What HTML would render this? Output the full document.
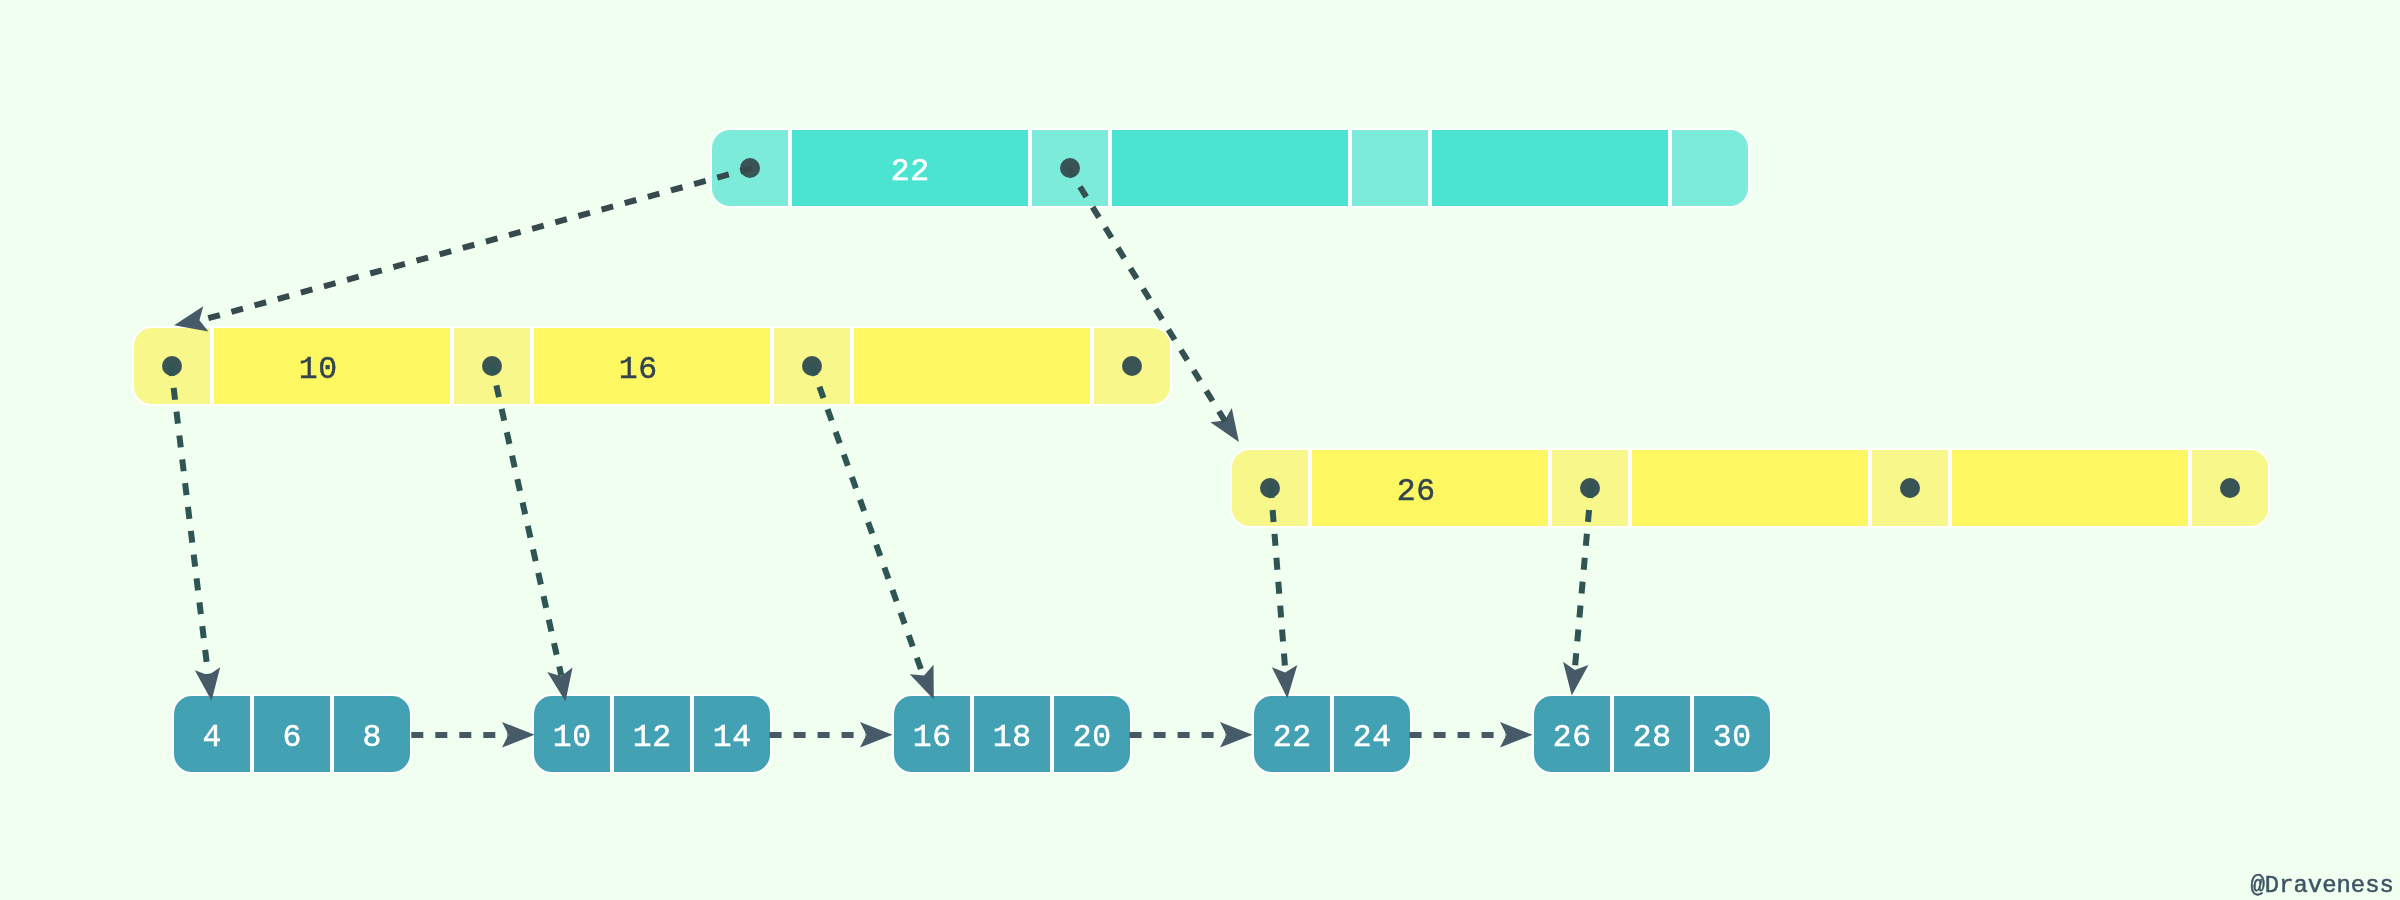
<!DOCTYPE html>
<html><head><meta charset="utf-8"><style>html,body{margin:0;padding:0;background:#F0FFF0;overflow:hidden}svg{display:block;will-change:transform}</style></head>
<body><svg width="2400" height="900" viewBox="0 0 2400 900"><rect x="0" y="0" width="2400" height="900" fill="#F0FFF0"/>
<clipPath id="c1"><rect x="712" y="130" width="1036" height="76" rx="18" ry="18"/></clipPath>
<rect x="710" y="128" width="1040" height="80" rx="20" ry="20" fill="#FFFFFF"/>
<g clip-path="url(#c1)">
<rect x="712" y="130" width="76" height="76" fill="#7CEBDA"/>
<rect x="792" y="130" width="236" height="76" fill="#4BE4D1"/>
<rect x="1032" y="130" width="76" height="76" fill="#7CEBDA"/>
<rect x="1112" y="130" width="236" height="76" fill="#4BE4D1"/>
<rect x="1352" y="130" width="76" height="76" fill="#7CEBDA"/>
<rect x="1432" y="130" width="236" height="76" fill="#4BE4D1"/>
<rect x="1672" y="130" width="76" height="76" fill="#7CEBDA"/>
</g>
<clipPath id="c2"><rect x="134" y="328" width="1036" height="76" rx="18" ry="18"/></clipPath>
<rect x="132" y="326" width="1040" height="80" rx="20" ry="20" fill="#FFFFFF"/>
<g clip-path="url(#c2)">
<rect x="134" y="328" width="76" height="76" fill="#F7F78A"/>
<rect x="214" y="328" width="236" height="76" fill="#FDF862"/>
<rect x="454" y="328" width="76" height="76" fill="#F7F78A"/>
<rect x="534" y="328" width="236" height="76" fill="#FDF862"/>
<rect x="774" y="328" width="76" height="76" fill="#F7F78A"/>
<rect x="854" y="328" width="236" height="76" fill="#FDF862"/>
<rect x="1094" y="328" width="76" height="76" fill="#F7F78A"/>
</g>
<clipPath id="c3"><rect x="1232" y="450" width="1036" height="76" rx="18" ry="18"/></clipPath>
<rect x="1230" y="448" width="1040" height="80" rx="20" ry="20" fill="#FFFFFF"/>
<g clip-path="url(#c3)">
<rect x="1232" y="450" width="76" height="76" fill="#F7F78A"/>
<rect x="1312" y="450" width="236" height="76" fill="#FDF862"/>
<rect x="1552" y="450" width="76" height="76" fill="#F7F78A"/>
<rect x="1632" y="450" width="236" height="76" fill="#FDF862"/>
<rect x="1872" y="450" width="76" height="76" fill="#F7F78A"/>
<rect x="1952" y="450" width="236" height="76" fill="#FDF862"/>
<rect x="2192" y="450" width="76" height="76" fill="#F7F78A"/>
</g>
<clipPath id="c4"><rect x="174" y="696" width="236" height="76" rx="18" ry="18"/></clipPath>
<rect x="172" y="694" width="240" height="80" rx="20" ry="20" fill="#FFFFFF"/>
<g clip-path="url(#c4)">
<rect x="174" y="696" width="76" height="76" fill="#42A1B3"/>
<rect x="254" y="696" width="76" height="76" fill="#42A1B3"/>
<rect x="334" y="696" width="76" height="76" fill="#42A1B3"/>
</g>
<clipPath id="c5"><rect x="534" y="696" width="236" height="76" rx="18" ry="18"/></clipPath>
<rect x="532" y="694" width="240" height="80" rx="20" ry="20" fill="#FFFFFF"/>
<g clip-path="url(#c5)">
<rect x="534" y="696" width="76" height="76" fill="#42A1B3"/>
<rect x="614" y="696" width="76" height="76" fill="#42A1B3"/>
<rect x="694" y="696" width="76" height="76" fill="#42A1B3"/>
</g>
<clipPath id="c6"><rect x="894" y="696" width="236" height="76" rx="18" ry="18"/></clipPath>
<rect x="892" y="694" width="240" height="80" rx="20" ry="20" fill="#FFFFFF"/>
<g clip-path="url(#c6)">
<rect x="894" y="696" width="76" height="76" fill="#42A1B3"/>
<rect x="974" y="696" width="76" height="76" fill="#42A1B3"/>
<rect x="1054" y="696" width="76" height="76" fill="#42A1B3"/>
</g>
<clipPath id="c7"><rect x="1254" y="696" width="156" height="76" rx="18" ry="18"/></clipPath>
<rect x="1252" y="694" width="160" height="80" rx="20" ry="20" fill="#FFFFFF"/>
<g clip-path="url(#c7)">
<rect x="1254" y="696" width="76" height="76" fill="#42A1B3"/>
<rect x="1334" y="696" width="76" height="76" fill="#42A1B3"/>
</g>
<clipPath id="c8"><rect x="1534" y="696" width="236" height="76" rx="18" ry="18"/></clipPath>
<rect x="1532" y="694" width="240" height="80" rx="20" ry="20" fill="#FFFFFF"/>
<g clip-path="url(#c8)">
<rect x="1534" y="696" width="76" height="76" fill="#42A1B3"/>
<rect x="1614" y="696" width="76" height="76" fill="#42A1B3"/>
<rect x="1694" y="696" width="76" height="76" fill="#42A1B3"/>
</g>
<text transform="translate(910.34 180) scale(0.97 0.94)" x="0" y="0" fill="#FFFFFF" font-family='"Liberation Mono", monospace' font-size="32.4" letter-spacing="0.7" text-anchor="middle" stroke="#FFFFFF" stroke-width="0.5">22</text>
<text transform="translate(318.34 378.3) scale(0.97 0.94)" x="0" y="0" fill="#33444F" font-family='"Liberation Mono", monospace' font-size="32.4" letter-spacing="0.7" text-anchor="middle" stroke="#33444F" stroke-width="0.5">10</text>
<text transform="translate(638.34 378.3) scale(0.97 0.94)" x="0" y="0" fill="#33444F" font-family='"Liberation Mono", monospace' font-size="32.4" letter-spacing="0.7" text-anchor="middle" stroke="#33444F" stroke-width="0.5">16</text>
<text transform="translate(1416.34 500) scale(0.97 0.94)" x="0" y="0" fill="#33444F" font-family='"Liberation Mono", monospace' font-size="32.4" letter-spacing="0.7" text-anchor="middle" stroke="#33444F" stroke-width="0.5">26</text>
<text transform="translate(212.34 746.2) scale(0.97 0.94)" x="0" y="0" fill="#FFFFFF" font-family='"Liberation Mono", monospace' font-size="32.4" letter-spacing="0.7" text-anchor="middle" stroke="#FFFFFF" stroke-width="0.5">4</text>
<text transform="translate(292.34 746.2) scale(0.97 0.94)" x="0" y="0" fill="#FFFFFF" font-family='"Liberation Mono", monospace' font-size="32.4" letter-spacing="0.7" text-anchor="middle" stroke="#FFFFFF" stroke-width="0.5">6</text>
<text transform="translate(372.34 746.2) scale(0.97 0.94)" x="0" y="0" fill="#FFFFFF" font-family='"Liberation Mono", monospace' font-size="32.4" letter-spacing="0.7" text-anchor="middle" stroke="#FFFFFF" stroke-width="0.5">8</text>
<text transform="translate(572.34 746.2) scale(0.97 0.94)" x="0" y="0" fill="#FFFFFF" font-family='"Liberation Mono", monospace' font-size="32.4" letter-spacing="0.7" text-anchor="middle" stroke="#FFFFFF" stroke-width="0.5">10</text>
<text transform="translate(652.34 746.2) scale(0.97 0.94)" x="0" y="0" fill="#FFFFFF" font-family='"Liberation Mono", monospace' font-size="32.4" letter-spacing="0.7" text-anchor="middle" stroke="#FFFFFF" stroke-width="0.5">12</text>
<text transform="translate(732.34 746.2) scale(0.97 0.94)" x="0" y="0" fill="#FFFFFF" font-family='"Liberation Mono", monospace' font-size="32.4" letter-spacing="0.7" text-anchor="middle" stroke="#FFFFFF" stroke-width="0.5">14</text>
<text transform="translate(932.34 746.2) scale(0.97 0.94)" x="0" y="0" fill="#FFFFFF" font-family='"Liberation Mono", monospace' font-size="32.4" letter-spacing="0.7" text-anchor="middle" stroke="#FFFFFF" stroke-width="0.5">16</text>
<text transform="translate(1012.34 746.2) scale(0.97 0.94)" x="0" y="0" fill="#FFFFFF" font-family='"Liberation Mono", monospace' font-size="32.4" letter-spacing="0.7" text-anchor="middle" stroke="#FFFFFF" stroke-width="0.5">18</text>
<text transform="translate(1092.34 746.2) scale(0.97 0.94)" x="0" y="0" fill="#FFFFFF" font-family='"Liberation Mono", monospace' font-size="32.4" letter-spacing="0.7" text-anchor="middle" stroke="#FFFFFF" stroke-width="0.5">20</text>
<text transform="translate(1292.34 746.2) scale(0.97 0.94)" x="0" y="0" fill="#FFFFFF" font-family='"Liberation Mono", monospace' font-size="32.4" letter-spacing="0.7" text-anchor="middle" stroke="#FFFFFF" stroke-width="0.5">22</text>
<text transform="translate(1372.34 746.2) scale(0.97 0.94)" x="0" y="0" fill="#FFFFFF" font-family='"Liberation Mono", monospace' font-size="32.4" letter-spacing="0.7" text-anchor="middle" stroke="#FFFFFF" stroke-width="0.5">24</text>
<text transform="translate(1572.34 746.2) scale(0.97 0.94)" x="0" y="0" fill="#FFFFFF" font-family='"Liberation Mono", monospace' font-size="32.4" letter-spacing="0.7" text-anchor="middle" stroke="#FFFFFF" stroke-width="0.5">26</text>
<text transform="translate(1652.34 746.2) scale(0.97 0.94)" x="0" y="0" fill="#FFFFFF" font-family='"Liberation Mono", monospace' font-size="32.4" letter-spacing="0.7" text-anchor="middle" stroke="#FFFFFF" stroke-width="0.5">28</text>
<text transform="translate(1732.34 746.2) scale(0.97 0.94)" x="0" y="0" fill="#FFFFFF" font-family='"Liberation Mono", monospace' font-size="32.4" letter-spacing="0.7" text-anchor="middle" stroke="#FFFFFF" stroke-width="0.5">30</text>
<circle cx="750" cy="168" r="10" fill="#3A5354"/>
<circle cx="1070" cy="168" r="10" fill="#3A5354"/>
<circle cx="172" cy="366" r="10" fill="#3A5354"/>
<circle cx="492" cy="366" r="10" fill="#3A5354"/>
<circle cx="812" cy="366" r="10" fill="#3A5354"/>
<circle cx="1132" cy="366" r="10" fill="#3A5354"/>
<circle cx="1270" cy="488" r="10" fill="#3A5354"/>
<circle cx="1590" cy="488" r="10" fill="#3A5354"/>
<circle cx="1910" cy="488" r="10" fill="#3A5354"/>
<circle cx="2230" cy="488" r="10" fill="#3A5354"/>
<polygon points="534.50,734.80 502.00,747.60 508.50,734.80 502.00,722.00" fill="#475A68"/>
<polygon points="892.50,734.80 860.00,747.60 866.50,734.80 860.00,722.00" fill="#475A68"/>
<polygon points="1252.50,734.80 1220.00,747.60 1226.50,734.80 1220.00,722.00" fill="#475A68"/>
<polygon points="1532.50,734.80 1500.00,747.60 1506.50,734.80 1500.00,722.00" fill="#475A68"/>
<polygon points="174.16,325.36 203.22,306.31 199.43,320.16 208.38,331.39" fill="#475A68"/>
<polygon points="1238.94,442.03 1210.43,422.17 1224.69,420.52 1231.77,408.03" fill="#475A68"/>
<polygon points="211.54,700.80 194.80,670.35 208.31,675.20 220.20,667.15" fill="#475A68"/>
<polygon points="565.45,701.58 547.34,671.93 561.06,676.16 572.56,667.57" fill="#475A68"/>
<polygon points="933.80,699.48 909.79,674.37 924.10,675.57 933.51,664.73" fill="#475A68"/>
<polygon points="1287.39,698.27 1271.80,667.23 1285.12,672.57 1297.30,664.97" fill="#475A68"/>
<polygon points="1571.76,695.50 1563.05,661.87 1574.95,669.90 1588.45,665.03" fill="#475A68"/>
<line x1="411.3" y1="735" x2="508.0" y2="735" stroke="#465862" stroke-width="6" stroke-dasharray="12 12"/>
<line x1="769.6" y1="735" x2="866.0" y2="735" stroke="#465862" stroke-width="6" stroke-dasharray="12 12"/>
<line x1="1129.6" y1="735" x2="1226.0" y2="735" stroke="#465862" stroke-width="6" stroke-dasharray="12 12"/>
<line x1="1409.6" y1="735" x2="1506.0" y2="735" stroke="#465862" stroke-width="6" stroke-dasharray="12 12"/>
<line x1="751.93" y1="168.07" x2="199.40" y2="320.67" stroke="#364A4D" stroke-width="6" stroke-dasharray="12 12" stroke-dashoffset="0"/>
<line x1="1067.35" y1="166.30" x2="1225.29" y2="421.57" stroke="#345050" stroke-width="6" stroke-dasharray="12 12" stroke-dashoffset="0"/>
<line x1="170.76" y1="364.01" x2="208.22" y2="675.28" stroke="#2F5454" stroke-width="6" stroke-dasharray="12 12" stroke-dashoffset="0"/>
<line x1="491.56" y1="364.05" x2="561.31" y2="675.60" stroke="#2F5454" stroke-width="6" stroke-dasharray="12 12" stroke-dashoffset="2.0999999999999996"/>
<line x1="811.32" y1="364.12" x2="923.08" y2="675.17" stroke="#2F5454" stroke-width="6" stroke-dasharray="12 12" stroke-dashoffset="0"/>
<line x1="1270.74" y1="486.01" x2="1285.44" y2="672.38" stroke="#2F5454" stroke-width="6" stroke-dasharray="12 12" stroke-dashoffset="0"/>
<line x1="1591.18" y1="486.01" x2="1574.72" y2="670.20" stroke="#2F5454" stroke-width="6" stroke-dasharray="12 12" stroke-dashoffset="0"/>
<text x="2250.5" y="892" fill="#3E5364" stroke="#3E5364" stroke-width="0.5" font-family='"Liberation Mono", monospace' font-size="23.9">@Draveness</text></svg></body></html>
